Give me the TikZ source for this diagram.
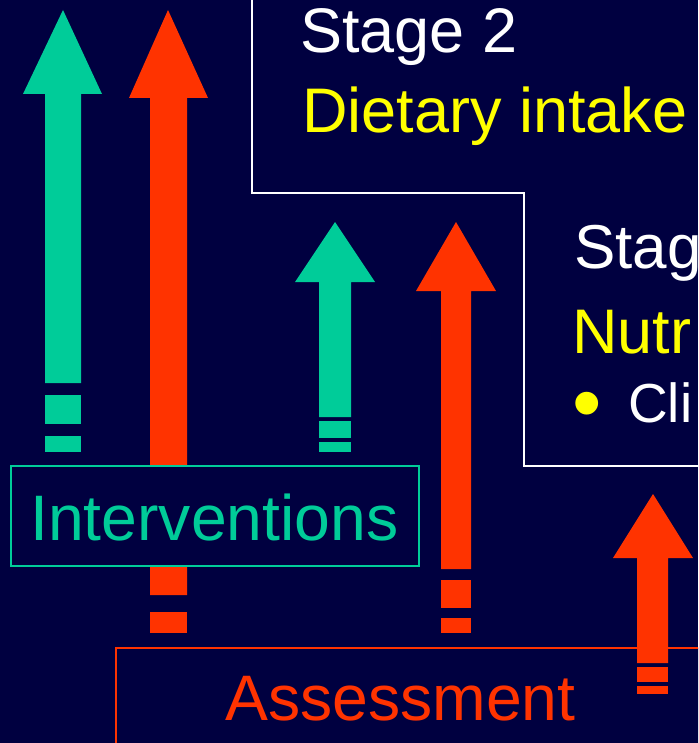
\documentclass[tikz,border=0pt]{standalone}
\usepackage{fontspec}
\setmainfont{Liberation Sans}
\definecolor{bgnavy}{RGB}{0,0,64}
\definecolor{tealc}{RGB}{0,204,153}
\definecolor{redc}{RGB}{255,51,0}
\definecolor{yelc}{RGB}{255,255,0}
\begin{document}
\begin{tikzpicture}[x=1pt,y=-1pt,
  bigtxt/.style={inner sep=0pt, anchor=base west, font=\fontsize{63}{70}\selectfont},
  boxtxt/.style={inner sep=0pt, anchor=base west, font=\fontsize{64.3}{70}\selectfont},
  midtxt/.style={inner sep=0pt, anchor=base west, font=\fontsize{55}{62}\selectfont},
  tealfill/.style={fill=tealc, draw=none},
  redfill/.style={fill=redc, draw=none},
  stageline/.style={draw=white, line width=2.2pt},
  intbox/.style={draw=tealc, fill=bgnavy, line width=2pt, inner sep=0pt, anchor=north west, minimum width=408pt, minimum height=100pt},
  assbox/.style={draw=redc, fill=bgnavy, line width=2pt, inner sep=0pt, anchor=north west, minimum width=700pt, minimum height=200pt}]
\fill[bgnavy] (0,0) rectangle (698,743);
\useasboundingbox (0,0) rectangle (698,743);
\clip (0,0) rectangle (698,743);

% stage boxes
\draw[stageline] (252,-10) -- (252,193) -- (524,193) -- (524,466) -- (710,466);
\node[bigtxt, white] (s2) at (300,53) {Stage 2};
\node[bigtxt, yelc] (s2b) at (302,133) {Dietary intake};
\node[bigtxt, white, font=\fontsize{62}{70}\selectfont] (s3) at (574,268) {Stag};
\node[bigtxt, yelc] (s3b) at (572,353) {Nutr};
\node[inner sep=0pt, anchor=base west, yelc, font=\fontsize{84}{90}\selectfont] (bul) at (572,431) {\textbullet};
\node[midtxt, white] (s3c) at (628,422) {Cli};

% teal arrow 1
\path[tealfill] (63,10) -- (102,94) -- (81,94) -- (81,383) -- (45,383) -- (45,94) -- (23,94) -- cycle;
\path[tealfill] (45,395) rectangle (81,424);
\path[tealfill] (45,436) rectangle (81,452);
% red arrow 1
\path[redfill] (168,10) -- (208,98) -- (187,98) -- (187,595) -- (150,595) -- (150,98) -- (129,98) -- cycle;
\path[redfill] (150,612) rectangle (187,633);
% teal arrow 2
\path[tealfill] (335,222) -- (375,282) -- (351,282) -- (351,417) -- (319,417) -- (319,282) -- (295,282) -- cycle;
\path[tealfill] (319,421) rectangle (351,438);
\path[tealfill] (319,442) rectangle (351,452);
% red arrow 2
\path[redfill] (456,222) -- (496,291) -- (471,291) -- (471,569) -- (441,569) -- (441,291) -- (416,291) -- cycle;
\path[redfill] (441,580) rectangle (471,608);
\path[redfill] (441,618) rectangle (471,633);

% interventions box
\node[intbox] (int) at (10,465) {};
\node[boxtxt, tealc] (inttext) at (30,540) {Interventions};

% assessment box
\node[assbox] (ass) at (115,647) {};
\node[boxtxt, redc] (asstext) at (225,720) {Assessment};

% red arrow 3
\path[redfill] (653,494) -- (693,558) -- (668,558) -- (668,663) -- (637,663) -- (637,558) -- (613,558) -- cycle;
\path[redfill] (637,667) rectangle (668,682);
\path[redfill] (637,686) rectangle (668,694);
\end{tikzpicture}
\end{document}
